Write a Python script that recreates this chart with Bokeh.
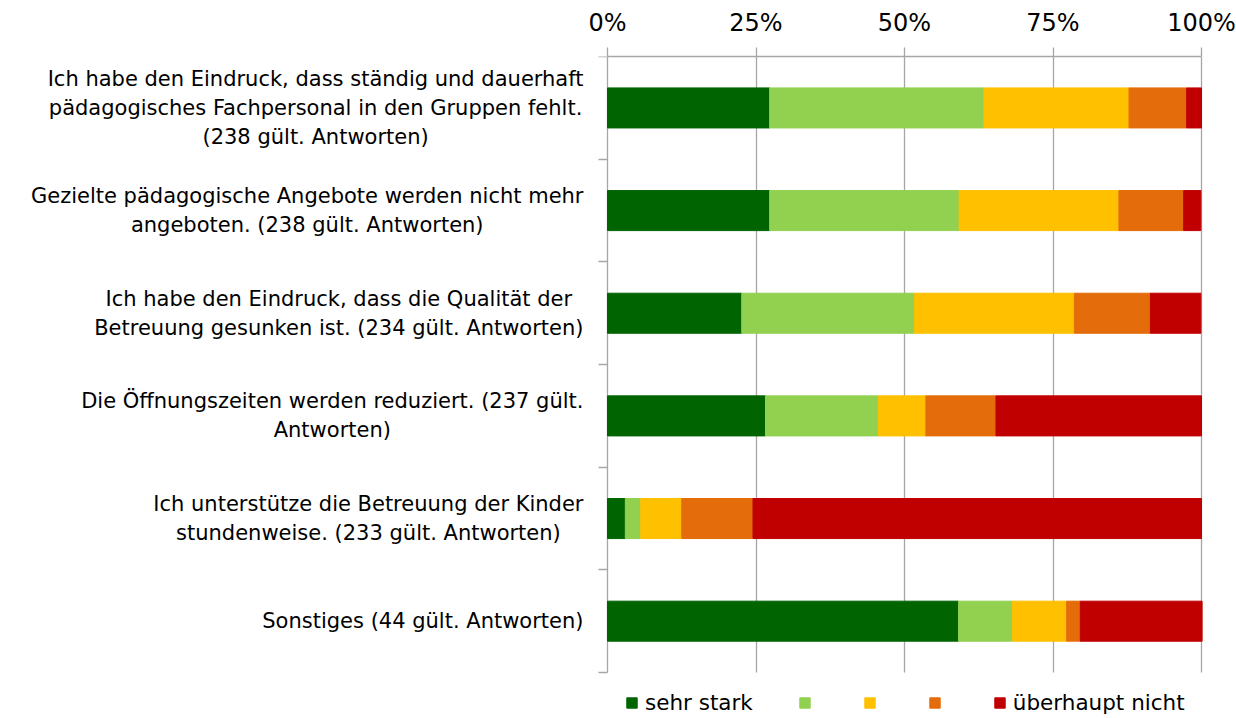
from bokeh.plotting import figure
from bokeh.models import (Range1d, FixedTicker, NumeralTickFormatter, Legend,
                          LegendItem, Label, ColumnDataSource)
from bokeh.embed import file_html
from bokeh.resources import INLINE

# ---------------- data ----------------
categories = [
    "Ich habe den Eindruck, dass ständig und dauerhaft\npädagogisches Fachpersonal in den Gruppen fehlt.\n(238 gült. Antworten)",
    "Gezielte pädagogische Angebote werden nicht mehr\nangeboten. (238 gült. Antworten)",
    "Ich habe den Eindruck, dass die Qualität der\nBetreuung gesunken ist. (234 gült. Antworten)",
    "Die Öffnungszeiten werden reduziert. (237 gült.\nAntworten)",
    "Ich unterstütze die Betreuung der Kinder\nstundenweise. (233 gült. Antworten)",
    "Sonstiges (44 gült. Antworten)",
]
series_names = ["sehr stark", "", "", "", "überhaupt nicht"]
sehr_stark = [27.3, 27.3, 22.6, 26.6, 3.0, 59.1]
stufe_2 = [36.1, 31.9, 29.1, 19.0, 2.6, 9.1]
stufe_3 = [24.4, 26.9, 26.9, 8.0, 6.9, 9.1]
stufe_4 = [9.7, 10.9, 12.8, 11.8, 12.0, 2.3]
ueberhaupt_nicht = [2.5, 2.9, 8.5, 34.6, 75.5, 20.5]
tick_values = [0, 0.25, 0.5, 0.75, 1.0]

colors = ["#006400", "#92D050", "#FFC000", "#E46C0A", "#C00000"]
FONT = "DejaVu Sans"
GRID = "#a6a6a6"

# ---------------- layout constants (pixels) ----------------
W, H = 1236, 718
TOP = 56            # height of top axis band
PLOT_LEFT = 607     # x position of 0 %
PLOT_W = 594        # width of 0..100 %
ROWS_H = 616        # height of the category area

n = len(categories)
keys = ["s1", "s2", "s3", "s4", "s5"]
series = [sehr_stark, stufe_2, stufe_3, stufe_4, ueberhaupt_nicht]
centers = [i + 0.5 for i in range(n)]
data = {"y": centers}
for k, s in zip(keys, series):
    data[k] = [v / 100.0 for v in s]
source = ColumnDataSource(data)

x_start = -PLOT_LEFT / PLOT_W
x_end = (W - PLOT_LEFT) / PLOT_W
y_end = n * (H - TOP) / ROWS_H

p = figure(width=W, height=H, title=None,
           x_range=Range1d(x_start, x_end), y_range=Range1d(y_end, -0.001),
           x_axis_location="above", y_axis_location="left",
           output_backend="svg", toolbar_location=None,
           min_border_left=0, min_border_right=0,
           min_border_top=TOP, min_border_bottom=0)
p.outline_line_color = None
p.background_fill_color = "white"

renderers = p.hbar_stack(keys, y="y", height=0.39, color=colors, source=source)

# top axis
p.xaxis.ticker = FixedTicker(ticks=tick_values)
p.xaxis.bounds = (0, 1)
p.xaxis.formatter = NumeralTickFormatter(format="0%")
p.xaxis.major_label_text_font = FONT
p.xaxis.major_label_text_font_size = "24px"
p.xaxis.major_label_text_color = "#000000"
p.xaxis.axis_line_color = GRID
p.xaxis.axis_line_width = 1.3
p.xaxis.major_tick_line_color = GRID
p.xaxis.major_tick_line_width = 1.3
p.xaxis.major_tick_out = 9
p.xaxis.major_tick_in = 0
p.xaxis.minor_tick_line_color = None
p.xaxis.major_label_standoff = 11

p.yaxis.visible = False

# vertical grid (0 % line acts as the category axis line)
p.xgrid.ticker = FixedTicker(ticks=tick_values)
p.xgrid.grid_line_color = GRID
p.xgrid.grid_line_width = 1.3
p.xgrid.cross_bounds = (0, n)
# short tick marks at category boundaries
p.ygrid.ticker = FixedTicker(ticks=list(range(n + 1)))
p.ygrid.grid_line_color = GRID
p.ygrid.grid_line_width = 1.3
p.ygrid.cross_bounds = (-9 / PLOT_W, 0)

# category labels
for c, txt in zip(centers, categories):
    p.add_layout(Label(x=0, y=c, x_offset=-24, text=txt,
                       anchor="center_right", text_align="center",
                       text_baseline="middle", text_font=FONT,
                       text_font_size="21px", text_line_height=1.21,
                       text_color="#000000"))

legend = Legend(items=[LegendItem(label=nm, renderers=[r])
                       for nm, r in zip(series_names, renderers)],
                orientation="horizontal", location=(625, 3),
                glyph_width=13, glyph_height=13, label_standoff=7,
                label_width=0, spacing=45, padding=2, margin=0,
                label_text_font=FONT, label_text_font_size="21.5px",
                label_text_color="#000000", border_line_color=None,
                background_fill_alpha=0)
p.add_layout(legend, "center")

open("out.html", "w").write(file_html(p, INLINE))
